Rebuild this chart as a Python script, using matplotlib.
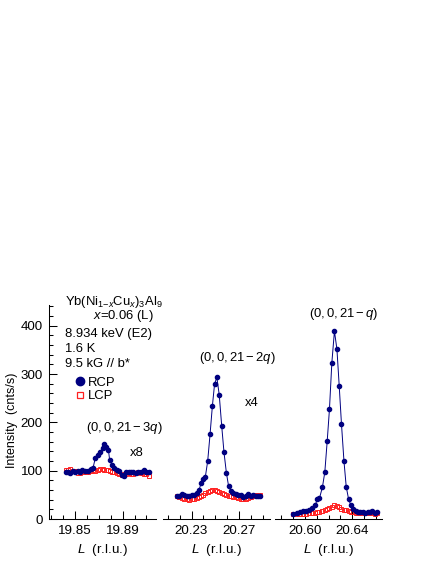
import matplotlib
matplotlib.use('Agg')
import matplotlib.pyplot as plt
from matplotlib.lines import Line2D
from matplotlib.ticker import FixedLocator, MultipleLocator

plt.rcParams['font.family'] = ['Liberation Sans', 'DejaVu Sans']
plt.rcParams['mathtext.fontset'] = 'custom'
plt.rcParams['mathtext.rm'] = 'Liberation Sans'
plt.rcParams['mathtext.it'] = 'Liberation Sans:italic'
plt.rcParams['mathtext.bf'] = 'Liberation Sans:bold'

# (0,0,21-3q) scan, x8
L1 = [19.842, 19.844, 19.846, 19.848, 19.850, 19.852, 19.854, 19.856, 19.858, 19.861,
      19.863, 19.865, 19.867, 19.869, 19.871, 19.873, 19.874, 19.876, 19.878, 19.879,
      19.881, 19.883, 19.885, 19.887, 19.889, 19.891, 19.893, 19.895, 19.897, 19.899,
      19.901, 19.903, 19.905, 19.908, 19.910, 19.912]
rcp1 = [98, 97, 96, 99, 97, 99, 98, 101, 99, 99, 103, 105, 127, 132, 139, 146, 155, 150,
        143, 122, 112, 105, 101, 99, 92, 88, 97, 97, 97, 98, 96, 98, 97, 101, 97, 98]
lcp1 = [101, 101, 103, 100, 99, 95, 96, 98, 98, 97, 99, 101, 100, 102, 103, 103, 102, 101,
        101, 99, 97, 97, 95, 93, 92, 94, 94, 95, 94, 94, 96, 97, 95, 94, 93, 90]

# (0,0,21-2q) scan, x4
L2 = [20.2176, 20.2195, 20.2218, 20.2237, 20.2260, 20.2279, 20.2302, 20.2324, 20.2344,
      20.2364, 20.2382, 20.2400, 20.2416, 20.2436, 20.2456, 20.2475, 20.2494, 20.2513,
      20.2533, 20.2554, 20.2573, 20.2593, 20.2611, 20.2631, 20.2651, 20.2672, 20.2693,
      20.2714, 20.2735, 20.2756, 20.2777, 20.2797, 20.2820, 20.2839, 20.2859, 20.2879]
rcp2 = [48, 47, 51, 49, 48, 48, 49, 50, 54, 61, 75, 82, 87, 120, 176, 233, 280, 293,
        257, 192, 138, 96, 69, 58, 53, 51, 50, 49, 46, 48, 51, 48, 50, 48, 48, 47]
lcp2 = [48, 45, 43, 41, 41, 40, 41, 42, 44, 46, 48, 50, 53, 56, 58, 59, 60, 58,
        56, 53, 51, 49, 48, 47, 46, 45, 44, 42, 41, 42, 44, 46, 48, 49, 50, 50]

# (0,0,21-q) scan
L3 = [20.5904, 20.5933, 20.5961, 20.5989, 20.6009, 20.6037, 20.6060, 20.6088, 20.6107,
      20.6124, 20.6149, 20.6169, 20.6189, 20.6208, 20.6228, 20.6250, 20.6271, 20.6290,
      20.6309, 20.6330, 20.6349, 20.6369, 20.6389, 20.6408, 20.6428, 20.6448, 20.6467,
      20.6487, 20.6509, 20.6529, 20.6549, 20.6569, 20.6588, 20.6611]
rcp3 = [10, 13, 14, 17, 17, 19, 22, 29, 41, 43, 66, 97, 161, 227, 323, 389, 351, 276,
        197, 120, 67, 41, 28, 21, 17, 15, 14, 14, 13, 14, 14, 17, 13, 14]
lcp3 = [10, 11, 11, 10, 10, 12, 13, 13, 14, 14, 16, 18, 20, 22, 25, 28, 26, 24,
        21, 19, 18, 17, 15, 14, 13, 12, 12, 13, 12, 12, 13, 12, 11, 12]

xlims = [(19.828, 19.918), (20.206, 20.296), (20.575, 20.665)]
xmajors = [[19.85, 19.89], [20.23, 20.27], [20.60, 20.64]]
xlabels = [['19.85', '19.89'], ['20.23', '20.27'], ['20.60', '20.64']]

navy = '#000080'
red = '#ff2020'
W, H = 436, 564
fs = 9.4

fig = plt.figure(figsize=(W / 100, H / 100), dpi=100)


def fx(px):
    return px / W


def fy(py):
    return 1 - py / H


lefts = [49, 163, 275]
for i, (L, r, l) in enumerate([(L1, rcp1, lcp1), (L2, rcp2, lcp2), (L3, rcp3, lcp3)]):
    ax = fig.add_axes([fx(lefts[i]), fy(519), 107 / W, 214 / H])
    ax.plot(L, l, 's', ms=3.0, mfc='none', mec=red, mew=0.7, zorder=2)
    ax.plot(L, r, '-o', color=navy, lw=0.7, ms=3.0, zorder=3)
    ax.set_xlim(*xlims[i])
    ax.set_ylim(0, 443)
    ax.xaxis.set_major_locator(FixedLocator(xmajors[i]))
    ax.set_xticklabels(xlabels[i])
    ax.xaxis.set_minor_locator(MultipleLocator(0.01))
    ax.tick_params(which='major', direction='in', length=5.5, width=0.75, labelsize=9.6, pad=4.5)
    ax.tick_params(which='minor', direction='in', length=3, width=0.75)
    for s in ['top', 'right']:
        ax.spines[s].set_visible(False)
    ax.spines['bottom'].set_linewidth(0.75)
    ax.spines['left'].set_linewidth(0.75)
    ax.set_xlabel(r'$L$  (r.l.u.)', fontsize=9.6, labelpad=3.5)
    if i == 0:
        ax.yaxis.set_major_locator(MultipleLocator(100))
        ax.yaxis.set_minor_locator(MultipleLocator(20))
    else:
        ax.spines['left'].set_visible(False)
        ax.tick_params(axis='y', which='both', left=False, labelleft=False)
    ax.patch.set_alpha(0)

fig.text(fx(12), fy(420), 'Intensity  (cnts/s)', rotation=90, ha='center', va='center', fontsize=9)

fig.text(fx(65), fy(305), r'Yb(Ni$_{1\mathrm{-}x}$Cu$_{x}$)$_3$Al$_9$', fontsize=fs, va='baseline')
fig.text(fx(93), fy(319.5), r'$x$=0.06 (L)', fontsize=fs, va='baseline')
fig.text(fx(65), fy(337.5), '8.934 keV (E2)', fontsize=fs, va='baseline')
fig.text(fx(65), fy(352.5), '1.6 K', fontsize=fs, va='baseline')
fig.text(fx(65), fy(367), '9.5 kG // b*', fontsize=fs, va='baseline')

fig.text(fx(124), fy(431.5), r'$(0,0,21-3q)$', fontsize=fs, ha='center', va='baseline')
fig.text(fx(137), fy(456.5), 'x8', fontsize=fs, ha='center', va='baseline')
fig.text(fx(237.5), fy(361.5), r'$(0,0,21-2q)$', fontsize=fs, ha='center', va='baseline')
fig.text(fx(252), fy(406.5), 'x4', fontsize=fs, ha='center', va='baseline')
fig.text(fx(343.5), fy(317), r'$(0,0,21-q)$', fontsize=fs, ha='center', va='baseline')

handles = [Line2D([], [], ls='none', marker='o', ms=6, color=navy),
           Line2D([], [], ls='none', marker='s', ms=5, mfc='none', mec=red, mew=0.9)]
fig.legend(handles, ['RCP', 'LCP'], loc='upper left', bbox_to_anchor=(fx(73.5), fy(376.5)),
           frameon=False, fontsize=fs, handlelength=1.0, handletextpad=0.1,
           borderpad=0, borderaxespad=0, labelspacing=0.1)

fig.savefig('out.png', dpi=100)
